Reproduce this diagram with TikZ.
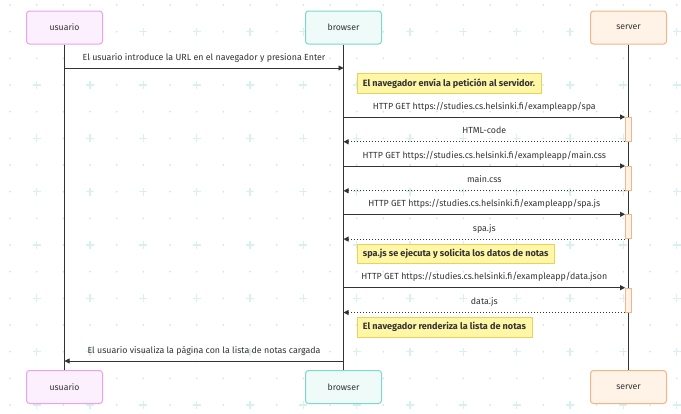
\documentclass[tikz,border=0pt]{standalone}
\usepackage{fontspec}
\setmainfont{Fira Sans}
\usetikzlibrary{positioning,arrows.meta}

\definecolor{usrfill}{HTML}{FDF0FE}
\definecolor{usrdraw}{HTML}{E8A2EF}
\definecolor{brwfill}{HTML}{EEFBF8}
\definecolor{brwdraw}{HTML}{7ED8CB}
\definecolor{srvfill}{HTML}{FFF3E8}
\definecolor{srvdraw}{HTML}{F2B585}
\definecolor{notefill}{HTML}{FFF6A6}
\definecolor{notedraw}{HTML}{E8D25A}
\definecolor{ink}{HTML}{333333}
\definecolor{gridplus}{HTML}{D7F0F2}
\definecolor{griddot}{HTML}{D9E3E5}

\tikzset{
 actor/.style={draw,rounded corners=3pt,line width=1pt,minimum width=76pt,minimum height=33pt,font=\fontsize{8.7}{10}\selectfont,text=ink},
 lifeline/.style={draw=ink,line width=1pt},
 msg/.style={draw=ink,line width=0.9pt,-{Triangle[length=5pt,width=5pt]}},
 reply/.style={msg,dash pattern=on 1.5pt off 1.5pt},
 msglabel/.style={font=\fontsize{8.85}{10}\selectfont,text=ink,inner sep=0pt,anchor=base},
 notebox/.style={draw=notedraw,fill=notefill,line width=0.8pt,anchor=north west,minimum height=20pt,inner xsep=6pt,font=\bfseries\fontsize{9.1}{10}\selectfont,text=ink},
 activation/.style={draw=srvdraw,fill=srvfill,line width=0.8pt,minimum width=6pt,inner sep=0pt,anchor=north}
}

\begin{document}
\begin{tikzpicture}[x=1pt,y=-1pt]
 \fill[white] (0,0) rectangle (681,413);
 \useasboundingbox (0,0) rectangle (681,413);
 % background pattern
 \foreach \i in {0,...,25}
  \foreach \j in {0,...,15}{
   \pgfmathtruncatemacro\k{mod(\i,2)*mod(\j,2)}
   \ifnum\k=1
    \draw[gridplus,line width=1.1pt] (10+26.667*\i-4,5+26.667*\j) -- ++(8,0) (10+26.667*\i,5+26.667*\j-4) -- ++(0,8);
   \else
    \fill[griddot] (10+26.667*\i,5+26.667*\j) circle (1pt);
   \fi
  }

 % actors
 \node[actor,draw=usrdraw,fill=usrfill] (usr) at (64.5,27.5) {usuario};
 \node[actor,draw=brwdraw,fill=brwfill] (brw) at (343.5,27.5) {browser};
 \node[actor,draw=srvdraw,fill=srvfill] (srv) at (628.5,27.5) {server};
 \node[actor,draw=usrdraw,fill=usrfill] (usrB) at (64.5,387) {usuario};
 \node[actor,draw=brwdraw,fill=brwfill] (brwB) at (343.5,387) {browser};
 \node[actor,draw=srvdraw,fill=srvfill] (srvB) at (628.5,387) {server};
 \draw[lifeline] (usr) -- (usrB);
 \draw[lifeline] (brw) -- (brwB);
 \draw[lifeline] (srv) -- (srvB);

 % activations on the server
 \node[activation,minimum height=24pt] (act1) at (628.5,117) {};
 \node[activation,minimum height=24pt] (act2) at (628.5,166) {};
 \node[activation,minimum height=24pt] (act3) at (628.5,214.3) {};
 \node[activation,minimum height=24pt] (act4) at (628.5,287.7) {};

 % messages
 \draw[msg] (usr |- 0,68) -- (brw |- 0,68) node[msglabel,midway,yshift=8pt] {El usuario introduce la URL en el navegador y presiona Enter};
 \node[notebox] (note1) at (356.5,73) {El navegador envía la petición al servidor.};
 \draw[msg] (brw |- act1.north west) -- (act1.north west) node[msglabel,midway,yshift=8pt] {HTTP GET https://studies.cs.helsinki.fi/exampleapp/spa};
 \draw[reply] (act1.south west) -- (brw |- act1.south west) node[msglabel,midway,yshift=8pt] {HTML-code};
 \draw[msg] (brw |- act2.north west) -- (act2.north west) node[msglabel,midway,yshift=8pt] {HTTP GET https://studies.cs.helsinki.fi/exampleapp/main.css};
 \draw[reply] (act2.south west) -- (brw |- act2.south west) node[msglabel,midway,yshift=8pt] {main.css};
 \draw[msg] (brw |- act3.north west) -- (act3.north west) node[msglabel,midway,yshift=8pt] {HTTP GET https://studies.cs.helsinki.fi/exampleapp/spa.js};
 \draw[reply] (act3.south west) -- (brw |- act3.south west) node[msglabel,midway,yshift=8pt] {spa.js};
 \node[notebox,minimum height=19pt] (note2) at (356.5,244.3) {spa.js se ejecuta y solicita los datos de notas};
 \draw[msg] (brw |- act4.north west) -- (act4.north west) node[msglabel,midway,yshift=8pt] {HTTP GET https://studies.cs.helsinki.fi/exampleapp/data.json};
 \draw[reply] (act4.south west) -- (brw |- act4.south west) node[msglabel,midway,yshift=8pt] {data.js};
 \node[notebox] (note3) at (356.5,316.7) {El navegador renderiza la lista de notas};
 \draw[msg] (brw |- 0,361) -- (usr |- 0,361) node[msglabel,midway,yshift=8pt] {El usuario visualiza la página con la lista de notas cargada};
\end{tikzpicture}
\end{document}
